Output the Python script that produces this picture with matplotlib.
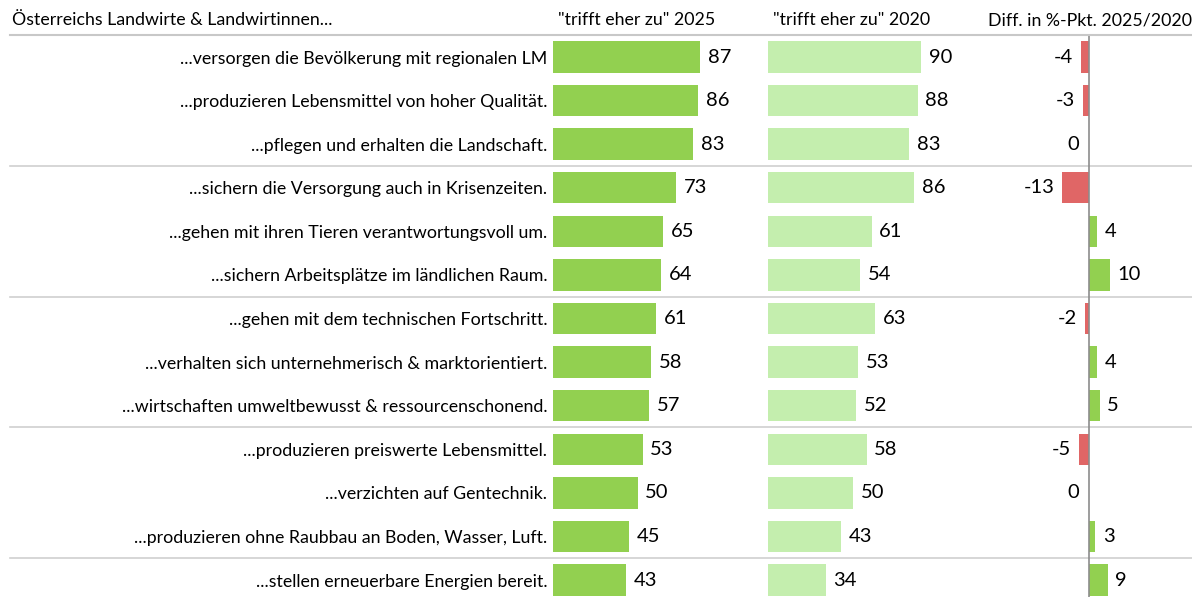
import numpy as np
import matplotlib.pyplot as plt
from matplotlib.transforms import blended_transform_factory

plt.rcParams['font.family'] = ['Lato', 'DejaVu Sans']

statements = [
    "...versorgen die Bevölkerung mit regionalen LM",
    "...produzieren Lebensmittel von hoher Qualität.",
    "...pflegen und erhalten die Landschaft.",
    "...sichern die Versorgung auch in Krisenzeiten.",
    "...gehen mit ihren Tieren verantwortungsvoll um.",
    "...sichern Arbeitsplätze im ländlichen Raum.",
    "...gehen mit dem technischen Fortschritt.",
    "...verhalten sich unternehmerisch & marktorientiert.",
    "...wirtschaften umweltbewusst & ressourcenschonend.",
    "...produzieren preiswerte Lebensmittel.",
    "...verzichten auf Gentechnik.",
    "...produzieren ohne Raubbau an Boden, Wasser, Luft.",
    "...stellen erneuerbare Energien bereit.",
]
val_2025 = [87, 86, 83, 73, 65, 64, 61, 58, 57, 53, 50, 45, 43]
val_2020 = [90, 88, 83, 86, 61, 54, 63, 53, 52, 58, 50, 43, 34]
diff = [-4, -3, 0, -13, 4, 10, -2, 4, 5, -5, 0, 3, 9]
group_breaks = [2.5, 5.5, 8.5, 11.5]

header_title = "Österreichs Landwirte & Landwirtinnen..."
header_2025 = '"trifft eher zu" 2025'
header_2020 = '"trifft eher zu" 2020'
header_diff = "Diff. in %-Pkt. 2025/2020"

dark_green = "#92d050"
light_green = "#c4eeae"
red = "#e06666"
fs = 12.8
fs_num = 14.5

W, H = 1192, 597
fig = plt.figure(figsize=(W / 100, H / 100), dpi=100)

def px_axes(x0, x1):
    # axes spanning pixel columns x0..x1, from header line (y=35) to bottom
    ax = fig.add_axes([x0 / W, 0, (x1 - x0) / W, (H - 35) / H])
    ax.patch.set_alpha(0)
    return ax

y = np.arange(len(statements))
ylim = (12.39, -0.505)

ax1 = px_axes(553, 760)
ax2 = px_axes(768, 975)
ax3 = px_axes(1000, 1192)

ax1.set_xlim(0, 207 / 1.69)
ax2.set_xlim(0, 207 / 1.70)
ax3.set_xlim(-89 / 2.1, 103 / 2.1)

for ax in (ax1, ax2, ax3):
    ax.set_ylim(*ylim)
    for s in ax.spines.values():
        s.set_visible(False)
    ax.set_xticks([])
    ax.set_yticks([])

bh = 0.72
ax1.barh(y, val_2025, height=bh, color=dark_green)
ax2.barh(y, val_2020, height=bh, color=light_green)
ax3.barh(y, diff, height=bh, color=[dark_green if d > 0 else red for d in diff])
ax3.axvline(0, color="#8c8c8c", lw=1.2)

ax1.set_yticks(y)
ax1.set_yticklabels(statements, fontsize=fs)
ax1.tick_params(axis="y", length=0, pad=4)

for yi, v in zip(y, val_2025):
    ax1.text(v + 4.5, yi, str(v), va="center", ha="left", fontsize=fs_num)
for yi, v in zip(y, val_2020):
    ax2.text(v + 4.5, yi, str(v), va="center", ha="left", fontsize=fs_num)
for yi, d in zip(y, diff):
    if d > 0:
        ax3.text(d + 3.5, yi, str(d), va="center", ha="left", fontsize=fs_num)
    elif d < 0:
        ax3.text(d - 3.5, yi, str(d), va="center", ha="right", fontsize=fs_num)
    else:
        ax3.text(-4.5, yi, "0", va="center", ha="right", fontsize=fs_num)

# header
hy = 1 - 20 / H
fig.text(12 / W, hy, header_title, va="center", ha="left", fontsize=fs)
fig.text(558 / W, hy, header_2025, va="center", ha="left", fontsize=fs)
fig.text(773 / W, hy, header_2020, va="center", ha="left", fontsize=fs)
fig.text(988 / W, hy, header_diff, va="center", ha="left", fontsize=fs)

# header rule and group separators across the whole width
fig.add_artist(plt.Line2D([10 / W, 1], [1 - 35 / H] * 2, color="#c8c8c8", lw=1.5))
tr = blended_transform_factory(fig.transFigure, ax1.transData)
for b in group_breaks:
    ax1.plot([10 / W, 1], [b, b], color="#d0d0d0", lw=1.2, transform=tr, clip_on=False, zorder=0)

fig.savefig("out.png", dpi=100)
